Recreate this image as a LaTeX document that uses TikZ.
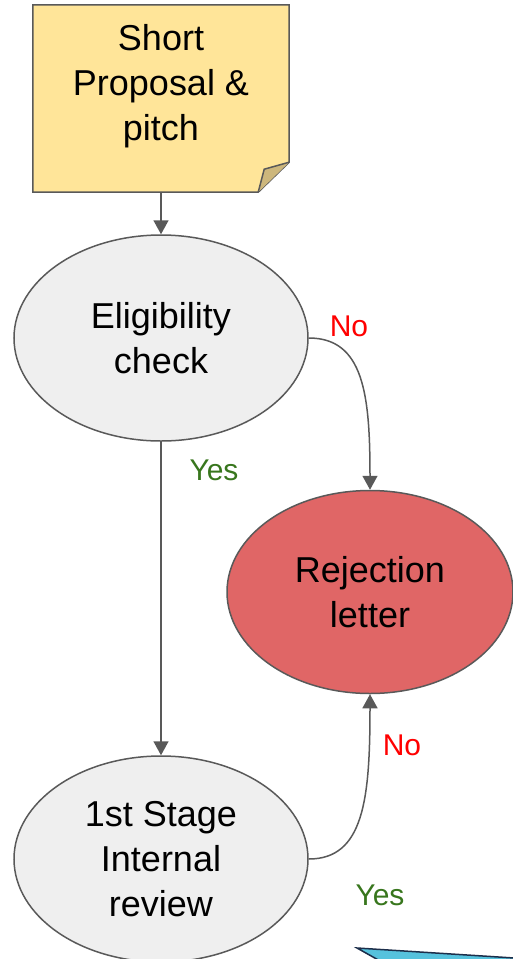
\documentclass[tikz,border=0pt]{standalone}
\usepackage{fontspec}
\setmainfont{Liberation Sans}
\usetikzlibrary{shapes.geometric,arrows.meta,calc}
\definecolor{notefill}{HTML}{FFE599}
\definecolor{foldfill}{HTML}{CDB77C}
\definecolor{edgegray}{HTML}{595959}
\definecolor{stepgray}{HTML}{EFEFEF}
\definecolor{rejred}{HTML}{E06666}
\definecolor{yesgreen}{HTML}{38761D}
\definecolor{boxblue}{HTML}{56C2DD}
\definecolor{boxnavy}{HTML}{1C2E4A}
\begin{document}
\begin{tikzpicture}[x=1pt, y=-1pt,
    oval/.style={ellipse, draw=edgegray, line width=1.5pt, inner sep=0pt,
        align=center, font=\fontsize{36}{45}\selectfont},
    link/.style={draw=edgegray, line width=1.5pt,
        -{Triangle[width=15pt,length=14pt]}},
    nolabel/.style={text=red, font=\fontsize{30}{36}\selectfont},
    yeslabel/.style={text=yesgreen, font=\fontsize{30}{36}\selectfont}]
    \useasboundingbox (0,0) rectangle (513,959);
    \clip (0,0) rectangle (513,959);

    % Note with folded corner
    \node[minimum width=256pt, minimum height=187pt, inner sep=0pt] (pitch) at (161,98.5) {};
    \filldraw[fill=notefill, draw=edgegray, line width=1.5pt]
        (pitch.north west) -- (pitch.north east) -- ($(pitch.south east)+(0,-30)$)
        -- ($(pitch.south east)+(-31,0)$) -- (pitch.south west) -- cycle;
    \filldraw[fill=foldfill, draw=edgegray, line width=1.5pt]
        ($(pitch.south east)+(0,-30)$) -- ($(pitch.south east)+(-25,-23)$)
        -- ($(pitch.south east)+(-31,0)$);
    \node[align=center, font=\fontsize{36}{45}\selectfont] (pitchtext) at (161,86) {Short\\Proposal \&\\pitch};

    % Steps
    \node[oval, fill=stepgray, minimum width=294pt, minimum height=206pt] (elig) at (161,338) {Eligibility\\check};
    \node[oval, fill=rejred, minimum width=286pt, minimum height=203pt] (reject) at (370,592) {Rejection\\letter};
    \node[oval, fill=stepgray, minimum width=294pt, minimum height=206pt] (review) at (161,859) {1st Stage\\Internal\\review};

    % Connectors
    \draw[link] (pitch.south) -- (elig.north);
    \draw[link] (elig.south) -- (review.north);
    \draw[link] (elig.east) .. controls +(55,0) and +(0,-95) .. (reject.north);
    \draw[link] (review.east) .. controls +(55,0) and +(0,105) .. (reject.south);

    % Labels
    \node[nolabel] (no1) at (349,326) {No};
    \node[yeslabel] (yes1) at (214,470) {Yes};
    \node[nolabel] (no2) at (402,745) {No};
    \node[yeslabel] (yes2) at (380,895) {Yes};

    % Next shape, cut off at the bottom
    \filldraw[fill=boxblue, draw=boxnavy, line width=1.5pt]
        (357,948) -- (530,959) -- (530,975) -- (405,975) -- cycle;
\end{tikzpicture}
\end{document}
